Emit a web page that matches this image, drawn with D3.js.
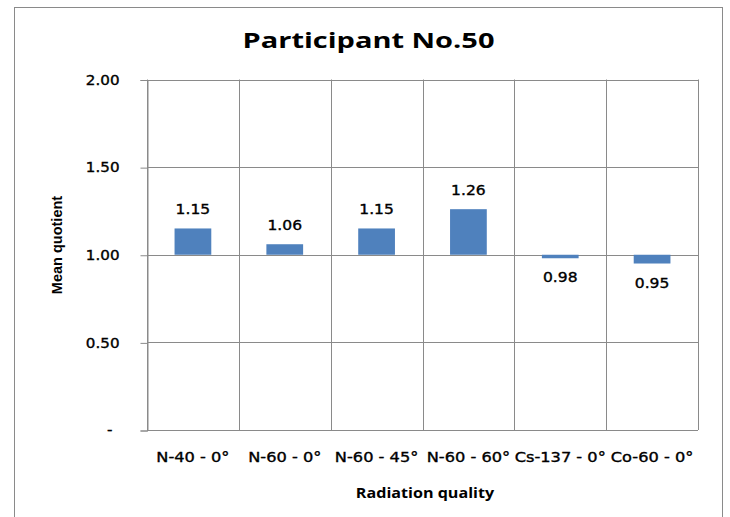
<!DOCTYPE html>
<html>
<head>
<meta charset="utf-8">
<script src="https://cdn.jsdelivr.net/npm/d3@7"></script>
<style>
  html, body { margin: 0; padding: 0; background: #fff; }
  svg { display: block; }
</style>
</head>
<body>
<script>
// Mean quotient per radiation quality for one participant
const categories = ["N-40 - 0\u00b0", "N-60 - 0\u00b0", "N-60 - 45\u00b0", "N-60 - 60\u00b0", "Cs-137 - 0\u00b0", "Co-60 - 0\u00b0"];
const meanQuotient = [1.15, 1.06, 1.15, 1.26, 0.98, 0.95];
const yTicks = [0, 0.5, 1.0, 1.5, 2.0];
const baseline = 1.0;
const chartTitle = "Participant No.50";
const xTitle = "Radiation quality";
const yTitle = "Mean quotient";

const W = 730, H = 517;
const plot = { left: 147, right: 698, top: 79.5, bottom: 430 };
const gridColor = "#8a8a8a";
const barColor = "#4f81bd";
const ink = "#000";

const svg = d3.select("body").append("svg")
  .attr("width", W).attr("height", H);

// stretch text horizontally to a wider set
function widen(sel, k) {
  sel.each(function () {
    const w = this.getComputedTextLength();
    d3.select(this).attr("textLength", w * k).attr("lengthAdjust", "spacingAndGlyphs");
  });
}

// slightly heavier strokes for the regular-weight labels
function heavy(sel) {
  sel.attr("fill", ink).attr("stroke", ink).attr("stroke-width", 0.35);
}

// outer chart frame
svg.append("rect")
  .attr("x", 14.5).attr("y", 7.5)
  .attr("width", 708).attr("height", 520)
  .attr("fill", "#fff").attr("stroke", gridColor).attr("stroke-width", 1);

const x = d3.scaleBand().domain(categories).range([plot.left, plot.right]).padding(0);
const y = d3.scaleLinear().domain([0, 2]).range([plot.bottom, plot.top]);

// horizontal gridlines
svg.append("g").selectAll("line").data(yTicks).join("line")
  .attr("x1", plot.left).attr("x2", plot.right)
  .attr("y1", d => Math.round(y(d)) + 0.5).attr("y2", d => Math.round(y(d)) + 0.5)
  .attr("stroke", gridColor);

// vertical gridlines at category boundaries
const bounds = categories.map(c => x(c)).concat([x(categories[categories.length - 1]) + x.bandwidth()]);
svg.append("g").selectAll("line").data(bounds).join("line")
  .attr("x1", d => Math.round(d) + 0.5).attr("x2", d => Math.round(d) + 0.5)
  .attr("y1", plot.top).attr("y2", plot.bottom)
  .attr("stroke", gridColor);

// y axis with outward ticks
const yAxis = svg.append("g")
  .attr("transform", `translate(${Math.round(plot.left) + 0.5},0.5)`)
  .call(d3.axisLeft(y).tickValues(yTicks).tickSize(7).tickPadding(21)
    .tickFormat(d => d === 0 ? "-" : d.toFixed(2)));
yAxis.select(".domain").attr("stroke", gridColor);
yAxis.selectAll(".tick line").attr("stroke", gridColor);
yAxis.selectAll(".tick text")
  .attr("font-family", "DejaVu Sans").attr("font-size", 13.5)
  .attr("dx", d => d === 0 ? -7 : 0)
  .call(heavy);
widen(yAxis.selectAll(".tick text"), 1.12);

// bars drawn from the baseline of 1.00
const bw = x.bandwidth() * 0.4;
svg.append("g").selectAll("rect").data(meanQuotient).join("rect")
  .attr("x", (d, i) => x(categories[i]) + (x.bandwidth() - bw) / 2)
  .attr("width", bw)
  .attr("y", d => y(Math.max(d, baseline)))
  .attr("height", d => Math.abs(y(d) - y(baseline)))
  .attr("fill", barColor);

// value labels
const vl = svg.append("g").selectAll("text").data(meanQuotient).join("text")
  .attr("x", (d, i) => x(categories[i]) + x.bandwidth() / 2)
  .attr("y", d => d >= baseline ? y(d) - 14 : y(d) + 24)
  .attr("text-anchor", "middle")
  .attr("font-family", "DejaVu Sans").attr("font-size", 13.5)
  .text(d => d.toFixed(2))
  .call(heavy);
widen(vl, 1.15);

// category labels
const cl = svg.append("g").selectAll("text").data(categories).join("text")
  .attr("x", d => x(d) + x.bandwidth() / 2)
  .attr("y", 462)
  .attr("text-anchor", "middle")
  .attr("font-family", "DejaVu Sans").attr("font-size", 13.5)
  .text(d => d)
  .call(heavy);
widen(cl, 1.2);

// titles
const t = svg.append("text")
  .attr("x", 368.5).attr("y", 48).attr("text-anchor", "middle")
  .attr("font-family", "Open Sans").attr("font-weight", "bold").attr("font-size", 21)
  .attr("fill", ink).text(chartTitle);
widen(t, 1.38);

const xt = svg.append("text")
  .attr("x", 425).attr("y", 498).attr("text-anchor", "middle")
  .attr("font-family", "Open Sans").attr("font-weight", "bold").attr("font-size", 14)
  .attr("fill", ink).text(xTitle);
widen(xt, 1.15);

const yt = svg.append("text")
  .attr("transform", "translate(62,245) rotate(-90)")
  .attr("text-anchor", "middle")
  .attr("font-family", "Liberation Sans").attr("font-weight", "bold").attr("font-size", 14.5)
  .attr("fill", ink).text(yTitle);
</script>
</body>
</html>
